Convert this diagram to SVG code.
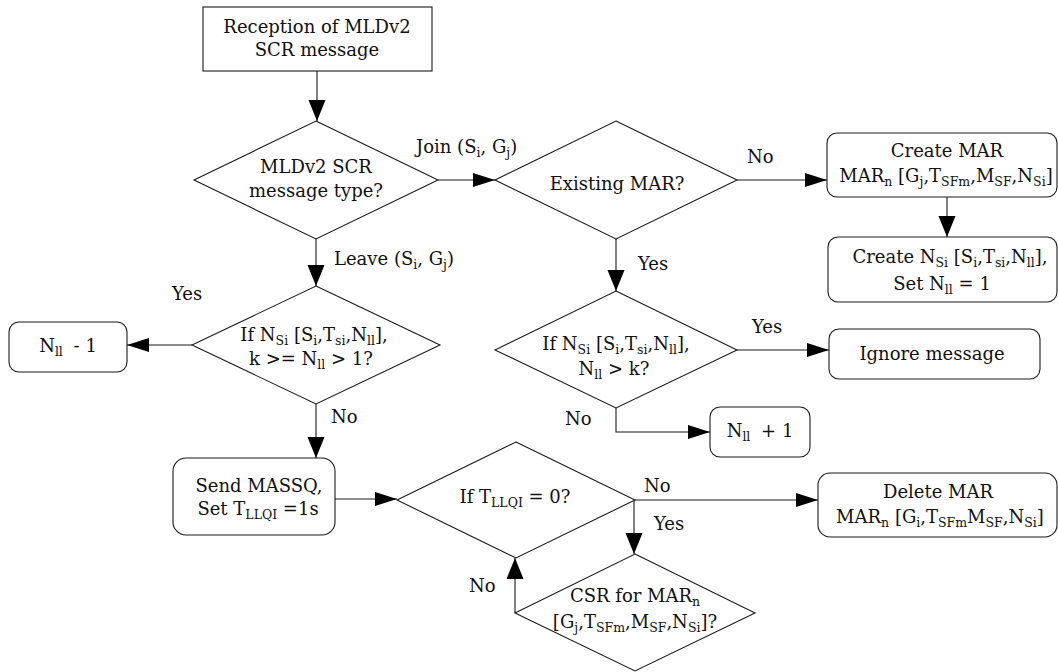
<svg xmlns="http://www.w3.org/2000/svg" width="1058" height="672" viewBox="0 0 1058 672">
  <style>
    .shape { fill: #ffffff; stroke: #1a1a1a; stroke-width: 1.1; }
    .line { fill: none; stroke: #1a1a1a; stroke-width: 1.1; }
    text { font-family: "DejaVu Serif", "Liberation Serif", serif; font-size: 18px; fill: #111111; }
    .c { text-anchor: middle; }
    .sub { font-size: 12.5px; }
  </style>
  <defs>
    <marker id="ah" markerUnits="userSpaceOnUse" markerWidth="24" markerHeight="16" refX="22" refY="7" orient="auto">
      <path d="M0,0 L22,7 L0,14 z" fill="#000000"/>
    </marker>
    <marker id="av" markerUnits="userSpaceOnUse" markerWidth="24" markerHeight="20" refX="21" refY="8.5" orient="auto">
      <path d="M0,0 L21,8.5 L0,17 z" fill="#000000"/>
    </marker>
  </defs>

  <!-- connectors -->
  <g id="connectors">
    <path class="line" d="M317,71 V121" marker-end="url(#av)"/>
    <path class="line" d="M438,180 H495" marker-end="url(#ah)"/>
    <path class="line" d="M737,180 H827" marker-end="url(#ah)"/>
    <path class="line" d="M947,197 V237" marker-end="url(#av)"/>
    <path class="line" d="M316,239 V286" marker-end="url(#av)"/>
    <path class="line" d="M192,345 H127" marker-end="url(#ah)"/>
    <path class="line" d="M316,404 V458" marker-end="url(#av)"/>
    <path class="line" d="M616,239 V291" marker-end="url(#av)"/>
    <path class="line" d="M737,350 H829" marker-end="url(#ah)"/>
    <path class="line" d="M616,408 V432 H710" marker-end="url(#ah)"/>
    <path class="line" d="M335,499 H397" marker-end="url(#ah)"/>
    <path class="line" d="M635,500 H818" marker-end="url(#ah)"/>
    <path class="line" d="M634,500 V554" marker-end="url(#av)"/>
    <path class="line" d="M515,613 V558" marker-end="url(#av)"/>

    <!-- branch labels -->
    <text x="416" y="153">Join (S<tspan class="sub" dy="4">i</tspan><tspan dy="-4">, G</tspan><tspan class="sub" dy="4">j</tspan><tspan dy="-4">)</tspan></text>
    <text x="747" y="163">No</text>
    <text x="334" y="265">Leave (S<tspan class="sub" dy="4">i</tspan><tspan dy="-4">, G</tspan><tspan class="sub" dy="4">j</tspan><tspan dy="-4">)</tspan></text>
    <text x="638" y="270">Yes</text>
    <text x="172" y="300">Yes</text>
    <text x="752" y="333">Yes</text>
    <text x="565" y="425">No</text>
    <text x="331" y="423">No</text>
    <text x="644" y="492">No</text>
    <text x="654" y="530">Yes</text>
    <text x="469" y="592">No</text>
  </g>

  <g id="reception">
    <rect class="shape" x="203" y="7" width="229" height="64"/>
    <text class="c" x="317" y="33">Reception of MLDv2</text>
    <text class="c" x="317" y="56">SCR message</text>
  </g>

  <g id="message-type">
    <polygon class="shape" points="316,121 438,180 316,239 194,180"/>
    <text class="c" x="316" y="173">MLDv2 SCR</text>
    <text class="c" x="316" y="197">message type?</text>
  </g>

  <g id="existing-mar">
    <polygon class="shape" points="616,121 737,180 616,239 495,180"/>
    <text class="c" x="617" y="190">Existing MAR?</text>
  </g>

  <g id="create-mar">
    <rect class="shape" x="827" y="133" width="230" height="64" rx="10"/>
    <text class="c" x="947" y="157">Create MAR</text>
    <text class="c" x="946" y="182">MAR<tspan class="sub" dy="4">n</tspan><tspan dy="-4"> [G</tspan><tspan class="sub" dy="4">j</tspan><tspan dy="-4">,T</tspan><tspan class="sub" dy="4">SFm</tspan><tspan dy="-4">,M</tspan><tspan class="sub" dy="4">SF</tspan><tspan dy="-4">,N</tspan><tspan class="sub" dy="4">Si</tspan><tspan dy="-4">]</tspan></text>
  </g>

  <g id="create-nsi">
    <rect class="shape" x="828" y="237" width="229" height="65" rx="10"/>
    <text class="c" x="950" y="263">Create N<tspan class="sub" dy="4">Si</tspan><tspan dy="-4"> [S</tspan><tspan class="sub" dy="4">i</tspan><tspan dy="-4">,T</tspan><tspan class="sub" dy="4">si</tspan><tspan dy="-4">,N</tspan><tspan class="sub" dy="4">ll</tspan><tspan dy="-4">],</tspan></text>
    <text class="c" x="942" y="290">Set N<tspan class="sub" dy="4">ll</tspan><tspan dy="-4"> = 1</tspan></text>
  </g>

  <g id="leave-check">
    <polygon class="shape" points="316,286 440,345 316,404 192,345"/>
    <text class="c" x="314" y="341">If N<tspan class="sub" dy="4">Si</tspan><tspan dy="-4"> [S</tspan><tspan class="sub" dy="4">i</tspan><tspan dy="-4">,T</tspan><tspan class="sub" dy="4">si</tspan><tspan dy="-4">,N</tspan><tspan class="sub" dy="4">ll</tspan><tspan dy="-4">],</tspan></text>
    <text class="c" x="311" y="365">k &gt;= N<tspan class="sub" dy="4">ll</tspan><tspan dy="-4"> &gt; 1?</tspan></text>
  </g>

  <g id="decrement">
    <rect class="shape" x="9" y="322" width="118" height="50" rx="10"/>
    <text class="c" x="68" y="352">N<tspan class="sub" dy="4">ll</tspan><tspan dy="-4" dx="5"> - 1</tspan></text>
  </g>

  <g id="join-check">
    <polygon class="shape" points="616,291 737,350 616,408 495,350"/>
    <text class="c" x="616" y="350">If N<tspan class="sub" dy="4">Si</tspan><tspan dy="-4"> [S</tspan><tspan class="sub" dy="4">i</tspan><tspan dy="-4">,T</tspan><tspan class="sub" dy="4">si</tspan><tspan dy="-4">,N</tspan><tspan class="sub" dy="4">ll</tspan><tspan dy="-4">],</tspan></text>
    <text class="c" x="614" y="375">N<tspan class="sub" dy="4">ll</tspan><tspan dy="-4"> &gt; k?</tspan></text>
  </g>

  <g id="ignore">
    <rect class="shape" x="829" y="329" width="211" height="50" rx="10"/>
    <text class="c" x="932" y="360">Ignore message</text>
  </g>

  <g id="increment">
    <rect class="shape" x="710" y="407" width="100" height="50" rx="10"/>
    <text class="c" x="760" y="437">N<tspan class="sub" dy="4">ll</tspan><tspan dy="-4" dx="5"> + 1</tspan></text>
  </g>

  <g id="send-massq">
    <rect class="shape" x="173" y="458" width="162" height="77" rx="13"/>
    <text class="c" x="259" y="492">Send MASSQ,</text>
    <text class="c" x="258" y="515">Set T<tspan class="sub" dy="4">LLQI</tspan><tspan dy="-4"> =1s</tspan></text>
  </g>

  <g id="timer-check">
    <polygon class="shape" points="516,442 635,500 516,558 397,500"/>
    <text class="c" x="515" y="503">If T<tspan class="sub" dy="4">LLQI</tspan><tspan dy="-4"> = 0?</tspan></text>
  </g>

  <g id="delete-mar">
    <rect class="shape" x="818" y="473" width="239" height="64" rx="12"/>
    <text class="c" x="938" y="498">Delete MAR</text>
    <text class="c" x="940" y="523">MAR<tspan class="sub" dy="4">n</tspan><tspan dy="-4"> [G</tspan><tspan class="sub" dy="4">i</tspan><tspan dy="-4">,T</tspan><tspan class="sub" dy="4">SFm</tspan><tspan dy="-4">M</tspan><tspan class="sub" dy="4">SF</tspan><tspan dy="-4">,N</tspan><tspan class="sub" dy="4">Si</tspan><tspan dy="-4">]</tspan></text>
  </g>

  <g id="csr-check">
    <polygon class="shape" points="635,554 755,613 635,671 515,613"/>
    <text class="c" x="635" y="602">CSR for MAR<tspan class="sub" dy="4">n</tspan></text>
    <text class="c" x="635" y="628">[G<tspan class="sub" dy="4">j</tspan><tspan dy="-4">,T</tspan><tspan class="sub" dy="4">SFm</tspan><tspan dy="-4">,M</tspan><tspan class="sub" dy="4">SF</tspan><tspan dy="-4">,N</tspan><tspan class="sub" dy="4">Si</tspan><tspan dy="-4">]?</tspan></text>
  </g>
</svg>
